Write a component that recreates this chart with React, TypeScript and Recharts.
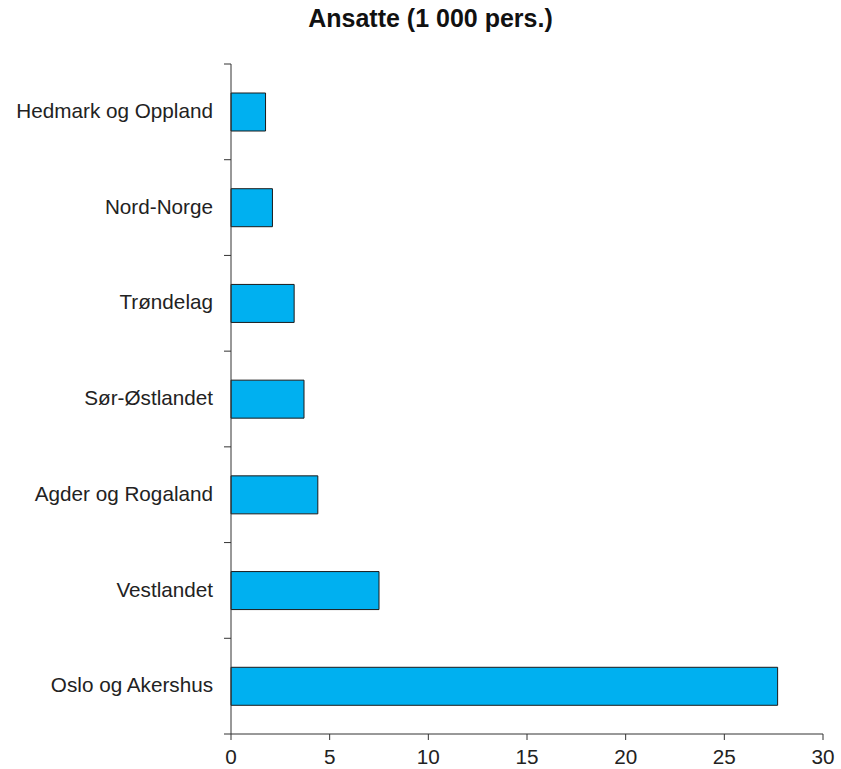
import { BarChart, Bar, XAxis, YAxis } from 'recharts';

const regions = [
  'Hedmark og Oppland',
  'Nord-Norge',
  'Trøndelag',
  'Sør-Østlandet',
  'Agder og Rogaland',
  'Vestlandet',
  'Oslo og Akershus',
];
const employees = [1.75, 2.1, 3.2, 3.7, 4.4, 7.5, 27.7];
const xTicks = [0, 5, 10, 15, 20, 25, 30];

const data = regions.map((region, i) => ({ region, value: employees[i] }));

const font = '"Liberation Sans", Arial, sans-serif';
const TICK_SIZE = 7;
const TICK_MARGIN = 11;

// category label plus tick marks on the band boundaries (not the centres)
function RegionTick(props: any) {
  const { x, y, payload, index, visibleTicksCount } = props;
  const half = payload.offset || 0;
  const axisX = x + TICK_SIZE + TICK_MARGIN;
  const isLast = index === visibleTicksCount - 1;
  return (
    <g>
      <line x1={axisX - TICK_SIZE} x2={axisX} y1={y - half} y2={y - half} stroke="#333" />
      {isLast && (
        <line x1={axisX - TICK_SIZE} x2={axisX} y1={y + half} y2={y + half} stroke="#333" />
      )}
      <text x={x} y={y} dy="0.3em" textAnchor="end" fill="#222" fontSize={20.7} fontFamily={font}>
        {payload.value}
      </text>
    </g>
  );
}

export default function App() {
  return (
    <div style={{ position: 'absolute', left: 0, top: 0, width: 841, height: 769, background: '#fff', fontFamily: font }}>
      <div
        style={{
          position: 'absolute',
          top: 4,
          left: 10,
          width: 841,
          textAlign: 'center',
          fontWeight: 'bold',
          fontSize: 25,
          color: '#111',
        }}
      >
        Ansatte (1 000 pers.)
      </div>
      <BarChart
        width={841}
        height={769}
        data={data}
        layout="vertical"
        margin={{ top: 64, right: 18, left: 0, bottom: 5 }}
      >
        <XAxis
          type="number"
          domain={[0, 30]}
          ticks={xTicks}
          interval={0}
          height={30}
          tickSize={6}
          tickMargin={9}
          stroke="#333"
          tick={{ fill: '#222', fontSize: 20.7, fontFamily: font }}
        />
        <YAxis
          type="category"
          dataKey="region"
          width={231}
          stroke="#333"
          tickLine={false}
          tickSize={TICK_SIZE}
          tickMargin={TICK_MARGIN}
          interval={0}
          tick={<RegionTick />}
        />
        <Bar
          dataKey="value"
          fill="#00B0F0"
          stroke="#1a1a1a"
          strokeWidth={1}
          barSize={38}
          isAnimationActive={false}
        />
      </BarChart>
    </div>
  );
}
